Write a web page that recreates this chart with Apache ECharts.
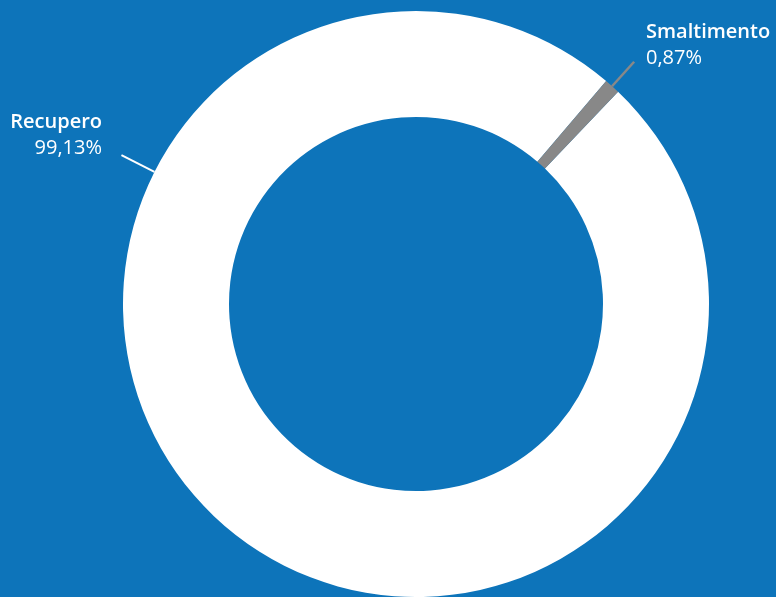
<!DOCTYPE html>
<html>
<head>
<meta charset="utf-8">
<script src="https://cdn.jsdelivr.net/npm/echarts@6/dist/echarts.min.js"></script>
<style>
html,body{margin:0;padding:0;background:#0d74ba;}
#c{width:776px;height:597px;}
</style>
</head>
<body>
<div id="c"></div>
<script>
const categories = ['Recupero', 'Smaltimento'];
const values = [99.13, 0.87];
const sliceColors = ['#ffffff', '#888888'];

const CX = 416, CY = 304, R_IN = 187, R_OUT = 293;
function pt(angleCW, r) {
  const a = angleCW * Math.PI / 180;
  return [CX + r * Math.sin(a), CY - r * Math.cos(a)];
}
const labelSpecs = [
  { angle: 296.8, rEnd: 330, x: 102, y: 109, align: 'right' },
  { angle: 42, rEnd: 326, x: 646, y: 19, align: 'left' }
];

const chart = echarts.init(document.getElementById('c'));
chart.setOption({
  backgroundColor: '#0d74ba',
  animation: false,
  series: [{
    type: 'pie',
    center: [CX, CY],
    radius: [R_IN, R_OUT],
    startAngle: 46.4,
    clockwise: true,
    avoidLabelOverlap: false,
    silent: true,
    data: categories.map((c, i) => ({
      name: c,
      value: values[i],
      itemStyle: { color: sliceColors[i] },
      labelLine: { lineStyle: { color: sliceColors[i], width: i === 0 ? 2 : 2.5 } }
    })),
    label: {
      show: true,
      formatter: p => '{n|' + p.name + '}\n{v|' + p.value.toFixed(2).replace('.', ',') + '%}',
      rich: {
        n: { color: '#ffffff', fontSize: 20, fontWeight: 600, fontFamily: 'Open Sans', lineHeight: 26 },
        v: { color: '#ffffff', fontSize: 20, fontWeight: 400, fontFamily: 'Open Sans', lineHeight: 26 }
      }
    },
    labelLine: { show: true, length: 10, length2: 10, smooth: false },
    labelLayout: function (params) {
      const s = labelSpecs[params.dataIndex];
      const p1 = pt(s.angle, R_OUT);
      const p2 = pt(s.angle, s.rEnd);
      return {
        x: s.x,
        y: s.y,
        align: s.align,
        verticalAlign: 'top',
        labelLinePoints: [p1, p2, p2]
      };
    }
  }]
});
</script>
</body>
</html>
